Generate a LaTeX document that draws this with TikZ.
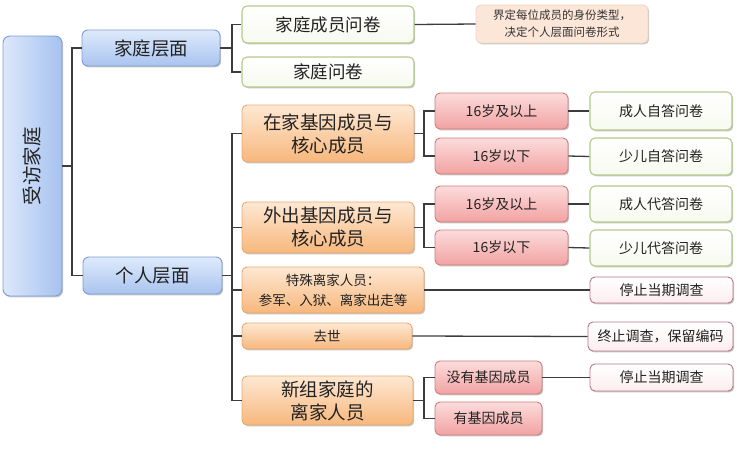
\documentclass[tikz,border=0pt]{standalone}
\usepackage{fontspec}
\setmainfont{Noto Sans CJK SC}
\usetikzlibrary{shadows}
\definecolor{linec}{HTML}{3C3C3C}
\definecolor{txt}{HTML}{222222}
\definecolor{bluedraw}{HTML}{7F9DD0}
\definecolor{bluetop}{HTML}{DEEAFC}
\definecolor{bluebot}{HTML}{A9C4EF}
\definecolor{rootl}{HTML}{DCE8FB}
\definecolor{rootr}{HTML}{A6C2F0}
\definecolor{greendraw}{HTML}{B3CA89}
\definecolor{greenbot}{HTML}{F7FAEF}
\definecolor{orangedraw}{HTML}{E8AA70}
\definecolor{orangetop}{HTML}{FEE8D3}
\definecolor{orangebot}{HTML}{F7B77C}
\definecolor{reddraw}{HTML}{CC7E7E}
\definecolor{redtop}{HTML}{FCDCDC}
\definecolor{redbot}{HTML}{F2A2A2}
\definecolor{pinkdraw}{HTML}{B5798A}
\definecolor{pinkbot}{HTML}{FCEDEF}
\definecolor{notedraw}{HTML}{F1D3C3}
\definecolor{notefill}{HTML}{FCE6D8}
\definecolor{notetxt}{HTML}{333333}
\begin{document}
\begin{tikzpicture}[x=1pt,y=-1pt,
  base/.style={draw, rounded corners=5pt, inner sep=0pt, align=center, text=txt, line width=0.9pt,
    drop shadow={shadow xshift=1.2pt, shadow yshift=-1.4pt, opacity=0.22, fill=black}},
  bluebox/.style={base, draw=bluedraw, top color=bluetop, bottom color=bluebot, rounded corners=6pt},
  rootbox/.style={base, draw=bluedraw, left color=rootl, right color=rootr, rounded corners=7pt},
  greenbox/.style={base, draw=greendraw, top color=white, bottom color=greenbot, line width=1.1pt},
  orangebox/.style={base, draw=orangedraw, top color=orangetop, bottom color=orangebot},
  redbox/.style={base, draw=reddraw, top color=redtop, bottom color=redbot},
  pinkbox/.style={base, draw=pinkdraw, top color=white, bottom color=pinkbot},
  notebox/.style={base, draw=notedraw, fill=notefill, text=notetxt},
  conn/.style={draw=linec, line width=1.3pt},
  fblue/.style={font=\fontsize{18.5}{21}\selectfont},
  fbig/.style={font=\fontsize{17.5}{21}\selectfont},
  fhuge/.style={font=\fontsize{18.5}{23}\selectfont},
  fmid/.style={font=\fontsize{14}{18}\selectfont},
  fsmall/.style={font=\fontsize{13.5}{20}\selectfont},
  fnote/.style={font=\fontsize{11.5}{17}\selectfont}
]
\useasboundingbox (0,0) rectangle (737,472);
\fill[white] (0,0) rectangle (737,472);

% nodes
\node[rootbox, minimum width=59pt, minimum height=260pt, font=\fontsize{19.5}{21}\selectfont] (root) at (32.5,166) {\rotatebox{90}{受访家庭}};
\node[bluebox, fblue, minimum width=138pt, minimum height=36pt] (jt) at (151,48) {家庭层面};
\node[bluebox, fblue, minimum width=139pt, minimum height=37pt] (gr) at (152.5,275.5) {个人层面};

\node[greenbox, fbig, minimum width=172pt, minimum height=37pt] (q1) at (328,24.5) {家庭成员问卷};
\node[greenbox, fbig, minimum width=172pt, minimum height=30pt] (q2) at (328,72) {家庭问卷};
\node[notebox, fnote, minimum width=172pt, minimum height=38pt] (note) at (562,24) {界定每位成员的身份类型，\\决定个人层面问卷形式};

\node[orangebox, fhuge, minimum width=172pt, minimum height=57pt] (o1) at (328,133.5) {在家基因成员与\\核心成员};
\node[orangebox, fhuge, minimum width=172pt, minimum height=51pt] (o2) at (328,227.5) {外出基因成员与\\核心成员};
\node[orangebox, fsmall, minimum width=182pt, minimum height=46pt] (o3) at (333,290) {特殊离家人员：\\参军、入狱、离家出走等};
\node[orangebox, fsmall, minimum width=170pt, minimum height=26pt] (o4) at (327,336) {去世};
\node[orangebox, fhuge, minimum width=171pt, minimum height=49pt] (o5) at (327.5,400.5) {新组家庭的\\离家人员};

\node[redbox, fmid, minimum width=133pt, minimum height=36pt] (r1) at (501.5,111) {16岁及以上};
\node[redbox, fmid, minimum width=133pt, minimum height=36pt] (r2) at (501.5,156) {16岁以下};
\node[redbox, fmid, minimum width=133pt, minimum height=36pt] (r3) at (501.5,204) {16岁及以上};
\node[redbox, fmid, minimum width=133pt, minimum height=35pt] (r4) at (501.5,247.5) {16岁以下};
\node[redbox, fmid, minimum width=107pt, minimum height=33pt] (r5) at (488.5,377.5) {没有基因成员};
\node[redbox, fmid, minimum width=107pt, minimum height=33pt] (r6) at (488.5,418.5) {有基因成员};

\node[greenbox, fmid, minimum width=142pt, minimum height=38pt] (g1) at (661,111) {成人自答问卷};
\node[greenbox, fmid, minimum width=142pt, minimum height=37pt] (g2) at (661,156.5) {少儿自答问卷};
\node[greenbox, fmid, minimum width=142pt, minimum height=36pt] (g3) at (661,204) {成人代答问卷};
\node[greenbox, fmid, minimum width=142pt, minimum height=36pt] (g4) at (661,248) {少儿代答问卷};

\node[pinkbox, fmid, minimum width=143pt, minimum height=26pt] (p1) at (661.5,290) {停止当期调查};
\node[pinkbox, fmid, minimum width=145pt, minimum height=29pt] (p2) at (660.5,336.5) {终止调查，保留编码};
\node[pinkbox, fmid, minimum width=143pt, minimum height=27pt] (p3) at (661.5,377.5) {停止当期调查};

% bus points
\coordinate (b1) at (72,166);
\coordinate (b2) at (232,48);
\coordinate (b3) at (232,275.5);
\coordinate (b4) at (424,133.5);
\coordinate (b5) at (424,227.5);
\coordinate (b6) at (424,400.5);

% connectors
\draw[conn] (root.east) -- (b1);
\draw[conn] (b1) |- (jt.west);
\draw[conn] (b1) |- (gr.west);
\draw[conn] (jt.east) -- (b2);
\draw[conn] (b2) |- (q1.west);
\draw[conn] (b2) |- (q2.west);
\draw[conn] (q1.east) -- (note.west);
\draw[conn] (gr.east) -- (b3);
\draw[conn] (b3) |- (o1.west);
\draw[conn] (b3) |- (o2.west);
\draw[conn] (b3) |- (o3.west);
\draw[conn] (b3) |- (o4.west);
\draw[conn] (b3) |- (o5.west);
\draw[conn] (o1.east) -- (b4);
\draw[conn] (b4) |- (r1.west);
\draw[conn] (b4) |- (r2.west);
\draw[conn] (o2.east) -- (b5);
\draw[conn] (b5) |- (r3.west);
\draw[conn] (b5) |- (r4.west);
\draw[conn] (o5.east) -- (b6);
\draw[conn] (b6) |- (r5.west);
\draw[conn] (b6) |- (r6.west);
\draw[conn] (r1.east) -- (g1.west);
\draw[conn] (r2.east) -- (g2.west);
\draw[conn] (r3.east) -- (g3.west);
\draw[conn] (r4.east) -- (g4.west);
\draw[conn] (o3.east) -- (p1.west);
\draw[conn] (o4.east) -- (p2.west);
\draw[conn] (r5.east) -- (p3.west);
\end{tikzpicture}
\end{document}
